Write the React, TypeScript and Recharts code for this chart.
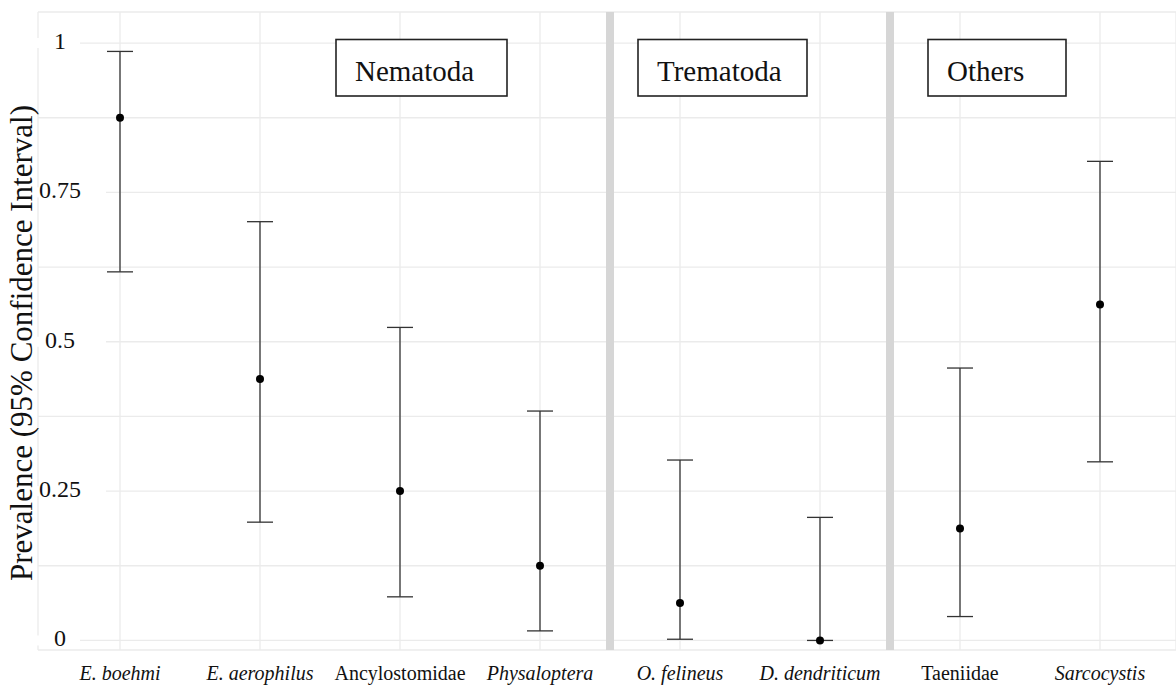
import React from 'react';
import {
  ComposedChart,
  Scatter,
  ErrorBar,
  XAxis,
  YAxis,
  CartesianGrid,
  ReferenceLine,
} from 'recharts';

// ---- data ----
const categories = [
  'E. boehmi',
  'E. aerophilus',
  'Ancylostomidae',
  'Physaloptera',
  'O. felineus',
  'D. dendriticum',
  'Taeniidae',
  'Sarcocystis',
];
const prevalence = [0.875, 0.4375, 0.25, 0.125, 0.0625, 0, 0.1875, 0.5625];
const lowerCI = [0.617, 0.198, 0.073, 0.016, 0.002, 0, 0.04, 0.299];
const upperCI = [0.986, 0.701, 0.524, 0.384, 0.302, 0.206, 0.456, 0.802];

const yGridTicks = [0, 0.125, 0.25, 0.375, 0.5, 0.625, 0.75, 0.875, 1];
const yMajorTicks = [0, 0.25, 0.5, 0.75, 1];
const yMajorLabels = ['0', '0.25', '0.5', '0.75', '1'];

const groupNames = ['Nematoda', 'Trematoda', 'Others'];
const groupBoundaries = ['O. felineus', 'Taeniidae'];
const uprightTaxa = ['Ancylostomidae', 'Taeniidae'];

const yTitle = 'Prevalence (95% Confidence Interval)';

const data = categories.map((name, i) => ({
  name,
  value: prevalence[i],
  err: [prevalence[i] - lowerCI[i], upperCI[i] - prevalence[i]],
}));

const FONT = '"Liberation Serif", "Times New Roman", serif';
const W = 1176;
const H = 686;

const XTick = (props: any) => {
  const { x, y, payload } = props;
  const italic = !uprightTaxa.includes(payload.value);
  return (
    <text
      x={x}
      y={y + 30}
      textAnchor="middle"
      fontFamily={FONT}
      fontSize={20}
      fontStyle={italic ? 'italic' : 'normal'}
      fill="#111"
    >
      {payload.value}
    </text>
  );
};

const YTick = (props: any) => {
  const { y, payload } = props;
  const idx = yMajorTicks.indexOf(payload.value);
  if (idx < 0) return <g />;
  const label = yMajorLabels[idx];
  return (
    <g>
      <rect x={36} y={y - 5} width={label.length > 1 ? 70 : 44} height={10} fill="#fff" />
      <text
        x={60}
        y={y + 6}
        textAnchor="middle"
        fontFamily={FONT}
        fontSize={24}
        fill="#111"
      >
        {label}
      </text>
    </g>
  );
};

const YTitle = () => (
  <text
    x={32}
    y={343}
    transform="rotate(-90, 32, 343)"
    textAnchor="middle"
    fontFamily={FONT}
    fontSize={31}
    fill="#111"
  >
    {yTitle}
  </text>
);

const Dot = (props: any) => {
  const { cx, cy } = props;
  return <circle cx={cx} cy={cy} r={4} fill="#000" />;
};

// annotation boxes (label boxes drawn over the panels)
const boxLayout = [
  { left: 336, width: 171 },
  { left: 638, width: 169 },
  { left: 928, width: 138 },
];

export default function App() {
  return (
    <div style={{ position: 'absolute', left: 0, top: 0, width: W, height: H, background: '#fff' }}>
      <ComposedChart
        width={W}
        height={H}
        data={data}
        margin={{ top: 12, right: 0, bottom: 0, left: 0 }}
      >
        <CartesianGrid stroke="#ebebeb" strokeWidth={1.3} />
        <XAxis
          dataKey="name"
          type="category"
          height={36}
          padding={{ left: 82, right: 76 }}
          axisLine={false}
          tickLine={false}
          tickSize={0}
          tickMargin={0}
          interval={0}
          tick={<XTick />}
        />
        <XAxis
          xAxisId="band"
          dataKey="name"
          type="category"
          scale="band"
          hide
          padding={{ left: 12, right: 6 }}
        />
        <YAxis
          type="number"
          width={38}
          domain={[-0.016, 1.052]}
          allowDataOverflow
          ticks={yGridTicks}
          axisLine={false}
          tickLine={false}
          tick={<YTick />}
          label={<YTitle />}
        />
        {groupBoundaries.map((b) => (
          <ReferenceLine
            key={b}
            xAxisId="band"
            x={b}
            position="start"
            stroke="#d6d6d6"
            strokeWidth={8}
          />
        ))}
        <Scatter dataKey="value" isAnimationActive={false} shape={<Dot />}>
          <ErrorBar
            dataKey="err"
            direction="y"
            width={13}
            stroke="#333"
            strokeWidth={1.3}
            isAnimationActive={false}
          />
        </Scatter>
      </ComposedChart>
      <svg
        width={W}
        height={H}
        style={{ position: 'absolute', left: 0, top: 0, pointerEvents: 'none' }}
      >
        {groupNames.map((g, i) => (
          <g key={g}>
            <rect
              x={boxLayout[i].left}
              y={39.5}
              width={boxLayout[i].width}
              height={56.5}
              fill="#fff"
              stroke="#222"
              strokeWidth={1.6}
            />
            <text
              x={boxLayout[i].left + 19}
              y={81}
              fontFamily={FONT}
              fontSize={29}
              fill="#111"
            >
              {g}
            </text>
          </g>
        ))}
      </svg>
    </div>
  );
}
